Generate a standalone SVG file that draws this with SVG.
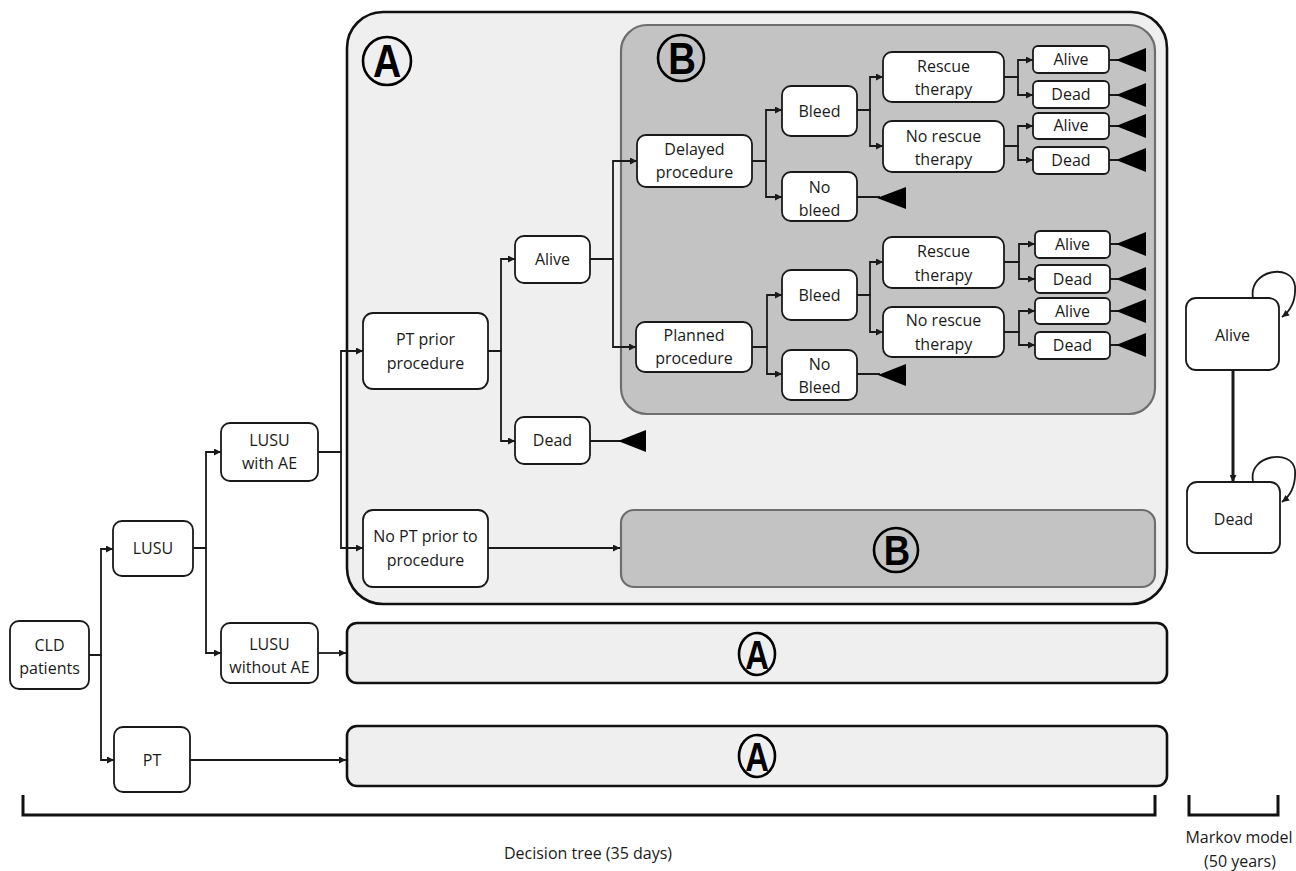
<svg xmlns="http://www.w3.org/2000/svg" width="1296" height="871" viewBox="0 0 1296 871">
<style>
.nd{fill:#fff;stroke:#1a1a1a;stroke-width:1.8}
.t{font-family:"Open Sans","Liberation Sans",sans-serif;font-size:16px;fill:#1a1a1a;text-anchor:middle}
.c{fill:none;stroke:#1a1a1a;stroke-width:1.8}
.tri{fill:#000}
.gA{fill:#efefef;stroke:#111;stroke-width:2.6}
.gB{fill:#c3c3c3;stroke:#6e6e6e;stroke-width:2.2}
.circ{fill:none;stroke:#000;stroke-width:2.6}
.L{font-family:"Liberation Sans",Arial,sans-serif;font-weight:bold;fill:#000;text-anchor:middle}
.br{fill:none;stroke:#111;stroke-width:3}
.bt{font-family:"Open Sans","Liberation Sans",sans-serif;font-size:16px;fill:#1a1a1a;text-anchor:middle}
</style>
<defs>
<marker id="arr" viewBox="0 0 10 10" refX="10" refY="5" markerWidth="9" markerHeight="7" markerUnits="userSpaceOnUse" orient="auto"><path d="M0,0 L10,5 L0,10 z" fill="#1a1a1a"/></marker>
<marker id="arrS" viewBox="0 0 10 10" refX="10" refY="5" markerWidth="8" markerHeight="7" markerUnits="userSpaceOnUse" orient="auto"><path d="M0,0 L10,5 L0,10 z" fill="#1a1a1a"/></marker>
</defs>

<g id="groupA-main">
<rect class="gA" x="347" y="12" width="820" height="592" rx="36"/>
<circle class="circ" cx="387" cy="61" r="24"/>
<text class="L" transform="translate(387,77) scale(0.85,1)" font-size="46">A</text>
</g>
<g id="groupB-main">
<rect class="gB" x="621" y="25" width="534" height="389" rx="26"/>
<circle class="circ" cx="681" cy="58" r="23"/>
<text class="L" transform="translate(682,74) scale(0.87,1)" font-size="44">B</text>
</g>
<g id="groupB-small">
<rect class="gB" x="621" y="510" width="534" height="77" rx="13"/>
<circle class="circ" cx="896" cy="550" r="22"/>
<text class="L" transform="translate(897,565) scale(0.87,1)" font-size="42">B</text>
</g>
<g id="groupA-2">
<rect class="gA" x="347" y="623" width="820" height="60" rx="10"/>
<ellipse class="circ" cx="757" cy="654" rx="18" ry="21"/>
<text class="L" transform="translate(757,669) scale(0.8,1)" font-size="41">A</text>
</g>
<g id="groupA-3">
<rect class="gA" x="347" y="726" width="820" height="60" rx="10"/>
<ellipse class="circ" cx="757" cy="756" rx="18" ry="21"/>
<text class="L" transform="translate(757,771) scale(0.8,1)" font-size="41">A</text>
</g>

<g id="connectors">
<path class="c" marker-end="url(#arr)" d="M89,655 H101 V549 H113"/>
<path class="c" marker-end="url(#arr)" d="M89,655 H101 V760 H114"/>
<path class="c" marker-end="url(#arr)" d="M190,760 H346"/>
<path class="c" marker-end="url(#arr)" d="M193,548 H206 V452 H221"/>
<path class="c" marker-end="url(#arr)" d="M193,548 H206 V653 H221"/>
<path class="c" marker-end="url(#arr)" d="M318,653 H346"/>
<path class="c" marker-end="url(#arr)" d="M318,452 H341 V351 H363"/>
<path class="c" marker-end="url(#arr)" d="M318,452 H341 V548 H363"/>
<path class="c" marker-end="url(#arr)" d="M488,548 H620"/>
<path class="c" marker-end="url(#arr)" d="M488,351 H501 V259 H515"/>
<path class="c" marker-end="url(#arr)" d="M488,351 H501 V441 H515"/>
<path class="c" marker-end="url(#arr)" d="M590,259 H613 V161 H637"/>
<path class="c" marker-end="url(#arr)" d="M590,259 H613 V347 H636"/>
<path class="c" marker-end="url(#arr)" d="M752,161 H766 V110 H782"/>
<path class="c" marker-end="url(#arr)" d="M752,161 H766 V197 H782"/>
<path class="c" marker-end="url(#arr)" d="M752,347 H767 V295 H782"/>
<path class="c" marker-end="url(#arr)" d="M752,347 H767 V374 H782"/>
<path class="c" marker-end="url(#arr)" d="M857,110 H870 V77 H883"/>
<path class="c" marker-end="url(#arr)" d="M857,110 H870 V146 H883"/>
<path class="c" marker-end="url(#arr)" d="M857,295 H870 V262 H883"/>
<path class="c" marker-end="url(#arr)" d="M857,295 H870 V332 H883"/>
<path class="c" marker-end="url(#arrS)" d="M1004,77 H1018 V60 H1033"/>
<path class="c" marker-end="url(#arrS)" d="M1004,77 H1018 V95 H1033"/>
<path class="c" marker-end="url(#arrS)" d="M1004,146 H1018 V126 H1033"/>
<path class="c" marker-end="url(#arrS)" d="M1004,146 H1018 V160 H1033"/>
<path class="c" marker-end="url(#arrS)" d="M1004,262 H1019 V244 H1035"/>
<path class="c" marker-end="url(#arrS)" d="M1004,262 H1019 V279 H1035"/>
<path class="c" marker-end="url(#arrS)" d="M1004,332 H1019 V311 H1035"/>
<path class="c" marker-end="url(#arrS)" d="M1004,332 H1019 V345 H1035"/>
<path class="c" d="M590,441 H620 M857,197 H880 M857,374 H880 M1109,60 H1118 M1109,95 H1118 M1109,126 H1118 M1109,160 H1118 M1110,244 H1118 M1110,279 H1118 M1110,311 H1118 M1110,345 H1118"/>
<polygon class="tri" points="618,441 646,430 646,452"/>
<polygon class="tri" points="877,198 906,187 906,209"/>
<polygon class="tri" points="878,375 906,364 906,386"/>
<polygon class="tri" points="1116,60 1146,48 1146,72"/>
<polygon class="tri" points="1116,95 1146,83 1146,107"/>
<polygon class="tri" points="1116,126 1146,114 1146,138"/>
<polygon class="tri" points="1116,160 1146,148 1146,172"/>
<polygon class="tri" points="1116,244 1146,232 1146,256"/>
<polygon class="tri" points="1116,279 1146,267 1146,291"/>
<polygon class="tri" points="1116,311 1146,299 1146,323"/>
<polygon class="tri" points="1116,345 1146,333 1146,357"/>
<path fill="none" stroke="#1a1a1a" stroke-width="3" marker-end="url(#arrS)" d="M1233,370 V482"/>
<path class="c" marker-end="url(#arrS)" d="M1253,298 C1248,270 1292,262 1295,286 C1296,301 1290,311 1282,317"/>
<path class="c" marker-end="url(#arrS)" d="M1253,481 C1248,455 1292,448 1295,470 C1296,486 1290,496 1282,502"/>
</g>

<g id="n-cld"><rect class="nd" x="10" y="621" width="79" height="68" rx="9"/><text class="t" x="49.5" y="651">CLD</text><text class="t" x="49.5" y="674">patients</text></g>
<g id="n-lusu"><rect class="nd" x="113" y="521" width="80" height="55" rx="9"/><text class="t" x="153" y="554">LUSU</text></g>
<g id="n-lusu-ae"><rect class="nd" x="221" y="423" width="97" height="58" rx="9"/><text class="t" x="269.5" y="446">LUSU</text><text class="t" x="269.5" y="469">with AE</text></g>
<g id="n-lusu-noae"><rect class="nd" x="221" y="623" width="97" height="60" rx="9"/><text class="t" x="269.5" y="650">LUSU</text><text class="t" x="269.5" y="673">without AE</text></g>
<g id="n-pt"><rect class="nd" x="114" y="727" width="76" height="65" rx="9"/><text class="t" x="152" y="766">PT</text></g>
<g id="n-ptprior"><rect class="nd" x="363" y="313" width="125" height="76" rx="10"/><text class="t" x="425.5" y="345">PT prior</text><text class="t" x="425.5" y="369">procedure</text></g>
<g id="n-noptprior"><rect class="nd" x="363" y="510" width="125" height="77" rx="10"/><text class="t" x="425.5" y="542">No PT prior to</text><text class="t" x="425.5" y="566">procedure</text></g>
<g id="n-alive1"><rect class="nd" x="515" y="236" width="75" height="47" rx="9"/><text class="t" x="552.5" y="265">Alive</text></g>
<g id="n-dead1"><rect class="nd" x="515" y="417" width="75" height="47" rx="9"/><text class="t" x="552.5" y="446">Dead</text></g>
<g id="n-delayed"><rect class="nd" x="637" y="135" width="115" height="52" rx="9"/><text class="t" x="694.5" y="155">Delayed</text><text class="t" x="694.5" y="178">procedure</text></g>
<g id="n-planned"><rect class="nd" x="636" y="322" width="116" height="50" rx="9"/><text class="t" x="694" y="341">Planned</text><text class="t" x="694" y="364">procedure</text></g>
<g id="n-bleed1"><rect class="nd" x="782" y="86" width="75" height="50" rx="9"/><text class="t" x="819.5" y="117">Bleed</text></g>
<g id="n-nobleed1"><rect class="nd" x="782" y="172" width="75" height="49" rx="9"/><text class="t" x="819.5" y="193">No</text><text class="t" x="819.5" y="216">bleed</text></g>
<g id="n-bleed2"><rect class="nd" x="782" y="270" width="75" height="50" rx="9"/><text class="t" x="819.5" y="301">Bleed</text></g>
<g id="n-nobleed2"><rect class="nd" x="782" y="350" width="75" height="50" rx="9"/><text class="t" x="819.5" y="370">No</text><text class="t" x="819.5" y="393">Bleed</text></g>
<g id="n-rescue1"><rect class="nd" x="883" y="52" width="121" height="50" rx="9"/><text class="t" x="943.5" y="72">Rescue</text><text class="t" x="943.5" y="95">therapy</text></g>
<g id="n-norescue1"><rect class="nd" x="883" y="121" width="121" height="51" rx="9"/><text class="t" x="943.5" y="142">No rescue</text><text class="t" x="943.5" y="165">therapy</text></g>
<g id="n-rescue2"><rect class="nd" x="883" y="237" width="121" height="51" rx="9"/><text class="t" x="943.5" y="257">Rescue</text><text class="t" x="943.5" y="281">therapy</text></g>
<g id="n-norescue2"><rect class="nd" x="883" y="307" width="121" height="50" rx="9"/><text class="t" x="943.5" y="326">No rescue</text><text class="t" x="943.5" y="350">therapy</text></g>
<g id="n-alive-a"><rect class="nd" x="1033" y="46" width="76" height="27" rx="5"/><text class="t" x="1071" y="65">Alive</text></g>
<g id="n-dead-a"><rect class="nd" x="1033" y="81" width="76" height="27" rx="5"/><text class="t" x="1071" y="100">Dead</text></g>
<g id="n-alive-b"><rect class="nd" x="1033" y="113" width="76" height="26" rx="5"/><text class="t" x="1071" y="131">Alive</text></g>
<g id="n-dead-b"><rect class="nd" x="1033" y="147" width="76" height="27" rx="5"/><text class="t" x="1071" y="166">Dead</text></g>
<g id="n-alive-c"><rect class="nd" x="1035" y="231" width="75" height="27" rx="5"/><text class="t" x="1072.5" y="250">Alive</text></g>
<g id="n-dead-c"><rect class="nd" x="1035" y="265" width="75" height="28" rx="5"/><text class="t" x="1072.5" y="285">Dead</text></g>
<g id="n-alive-d"><rect class="nd" x="1035" y="298" width="75" height="26" rx="5"/><text class="t" x="1072.5" y="317">Alive</text></g>
<g id="n-dead-d"><rect class="nd" x="1035" y="332" width="75" height="27" rx="5"/><text class="t" x="1072.5" y="351">Dead</text></g>
<g id="m-alive"><rect class="nd" x="1186" y="298" width="93" height="72" rx="10"/><text class="t" x="1232.5" y="341">Alive</text></g>
<g id="m-dead"><rect class="nd" x="1187" y="482" width="93" height="71" rx="10"/><text class="t" x="1233.5" y="525">Dead</text></g>

<g id="brackets">
<path class="br" d="M23,795 V815 H1155 V795"/>
<path class="br" d="M1189,795 V815 H1278 V795"/>
<text class="bt" x="588" y="859">Decision tree (35 days)</text>
<text class="bt" x="1239" y="843" font-size="17">Markov  model</text>
<text class="bt" x="1240" y="867" font-size="17">(50 years)</text>
</g>
</svg>
